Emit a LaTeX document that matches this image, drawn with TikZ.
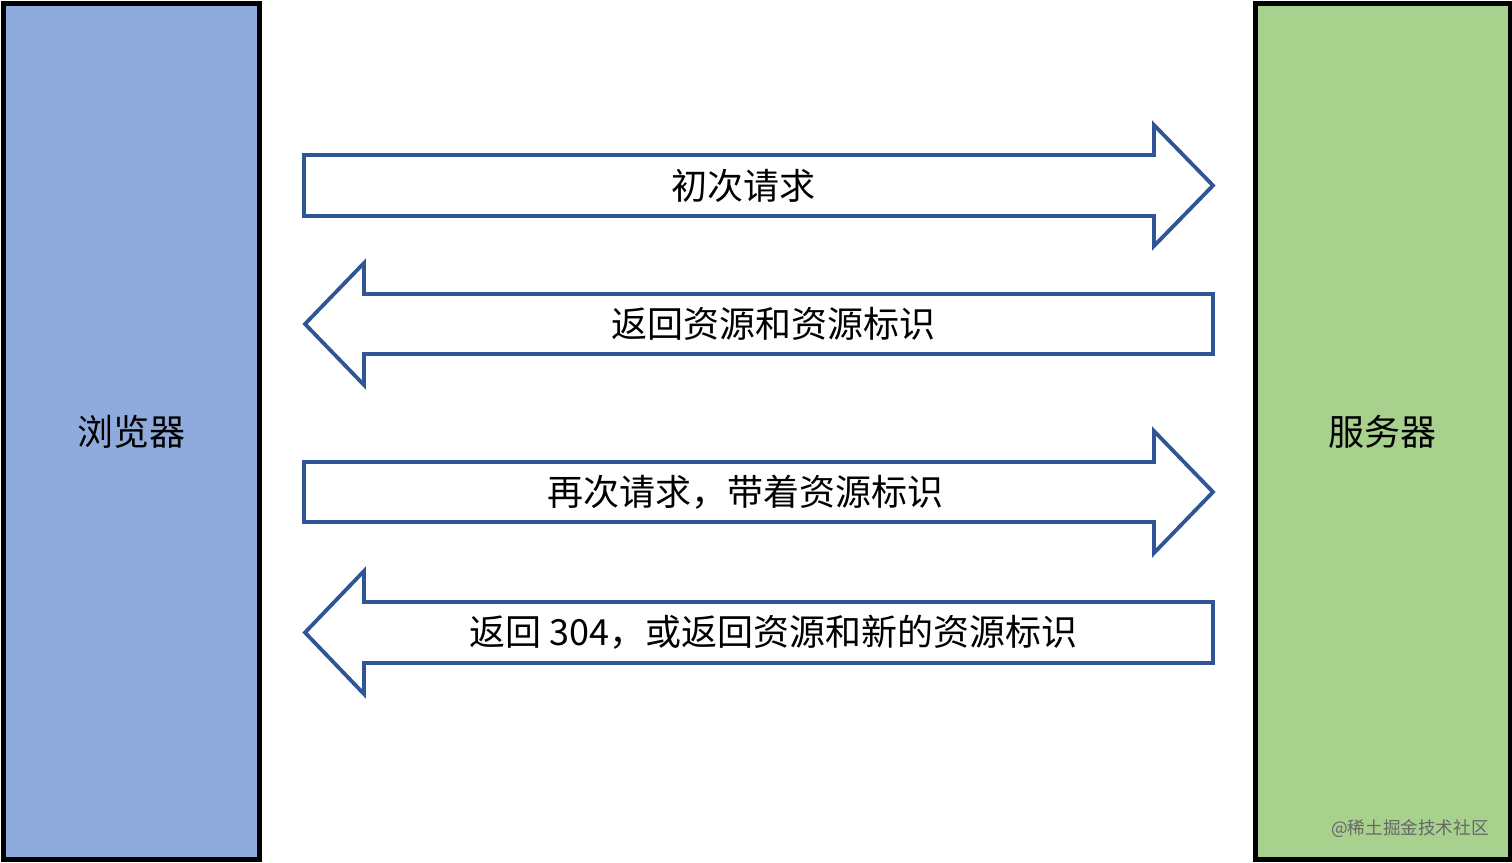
\documentclass[tikz,border=0pt]{standalone}
\usepackage{fontspec}
\setmainfont{Noto Sans CJK SC}
\definecolor{boxblue}{HTML}{8FAADC}
\definecolor{boxgreen}{HTML}{A9D18E}
\definecolor{arrowline}{HTML}{2F5597}
\begin{document}
\begin{tikzpicture}[
			x=0.5pt, y=-0.5pt,
			side/.style={draw=black, line width=2.5pt, inner sep=0pt},
			blockarrow/.style={draw=arrowline, fill=white, line width=1.9pt, line join=miter},
			alabel/.style={inner sep=0pt, font=\fontsize{18}{22}\selectfont},
			mark label/.style={inner sep=0pt, text=black!60, font=\fontsize{8.8}{10}\selectfont},
		]
		\useasboundingbox (0,0) rectangle (1512,863);

		% the two parties
		\draw[side, fill=boxblue] (3.5,3.5) rectangle (259.5,859.5);
		\draw[side, fill=boxgreen] (1255,3.5) rectangle (1510,859.5);
		\node[alabel] (browser) at (131.5,432) {浏览器};
		\node[alabel] (server) at (1382.5,432) {服务器};

		% requests and responses
		\draw[blockarrow] (304,155) -- (1154,155) -- (1154,125) -- (1213,185.5) -- (1154,246) -- (1154,216) -- (304,216) -- cycle;
		\draw[blockarrow] (1213,294) -- (364,294) -- (364,263) -- (305,324) -- (364,385) -- (364,354) -- (1213,354) -- cycle;
		\draw[blockarrow] (304,462) -- (1154,462) -- (1154,431) -- (1213,492) -- (1154,553) -- (1154,522) -- (304,522) -- cycle;
		\draw[blockarrow] (1213,602) -- (364,602) -- (364,571) -- (305,632.5) -- (364,694) -- (364,663) -- (1213,663) -- cycle;

		\node[alabel] (req1) at (743,186) {初次请求};
		\node[alabel] (res1) at (773,324) {返回资源和资源标识};
		\node[alabel] (req2) at (745,492) {再次请求，带着资源标识};
		\node[alabel] (res2) at (773,632.5) {返回 304，或返回资源和新的资源标识};

		\node[mark label, anchor=east] (mark) at (1489,829) {@稀土掘金技术社区};
	\end{tikzpicture}
\end{document}
